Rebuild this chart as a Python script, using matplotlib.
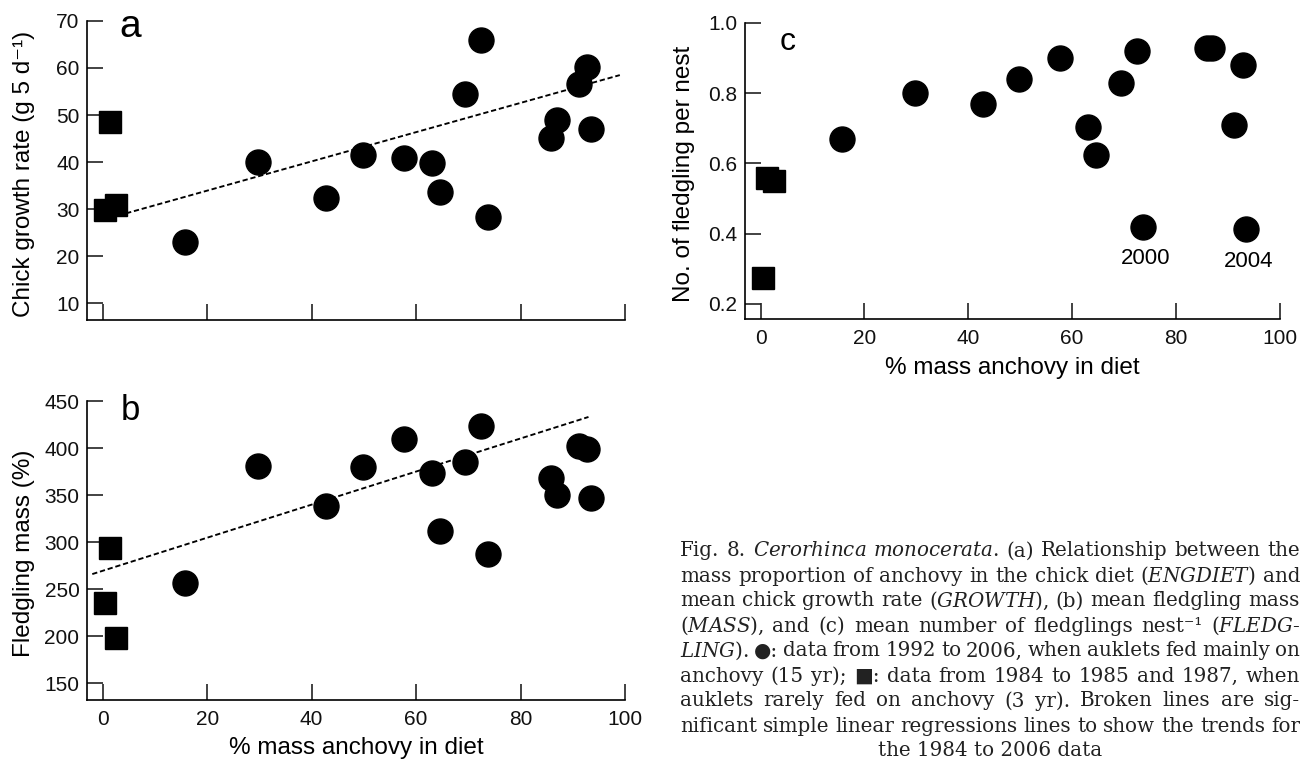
"""
Fig. 8 - Cerorhinca monocerata: chick growth, fledgling mass and
fledglings per nest against the share of anchovy in the chick diet.
"""

import matplotlib
matplotlib.use("Agg")
import matplotlib.pyplot as plt
import numpy as np
from matplotlib.ticker import FormatStrFormatter

plt.rcParams["font.family"] = ["Liberation Sans", "DejaVu Sans"]
plt.rcParams["mathtext.fontset"] = "custom"
plt.rcParams["mathtext.rm"] = "DejaVu Serif"
plt.rcParams["mathtext.it"] = "DejaVu Serif:italic"

# --- data ---------------------------------------------------------------
# 1992-2006, auklets fed mainly on anchovy (circles)
anchovy_x = [15.7, 29.8, 42.8, 49.8, 57.7, 63.1, 64.5, 69.4, 72.4, 73.7,
             85.9, 87.0, 91.2, 92.8, 93.4]
growth_y = [23.0, 40.0, 32.4, 41.6, 40.9, 39.8, 33.6, 54.5, 66.0, 28.3,
            45.2, 49.0, 56.7, 60.3, 47.1]
mass_y = [257, 381, 338, 380, 410, 374, 312, 385, 424, 288,
          368, 350, 402, 399, 347]
fledge_y = [0.670, 0.800, 0.770, 0.841, 0.900, 0.703, 0.623, 0.829, 0.921,
            0.420, 0.929, 0.929, 0.710, 0.881, 0.413]

# 1984, 1985, 1987, auklets rarely fed on anchovy (squares)
rare_x = [0.5, 1.3, 2.6]
rare_growth_y = [29.8, 48.6, 30.8]
rare_mass_y = [235.6, 294.4, 198.6]
rare_fledge_y = [0.273, 0.558, 0.549]

# regression lines (slope, intercept, x range)
growth_fit = (0.311, 27.7, (3, 99))
mass_fit = (1.757, 269.7, (-2, 93))

# labelled outliers in panel c: index into anchovy_x
year_labels = {9: "2000", 14: "2004"}

x_ticks = [0, 20, 40, 60, 80, 100]
growth_ticks = [10, 20, 30, 40, 50, 60, 70]
mass_ticks = [150, 200, 250, 300, 350, 400, 450]
fledge_ticks = [0.2, 0.4, 0.6, 0.8, 1.0]

caption = [
    r"Fig. 8. $\mathit{Cerorhinca}$ $\mathit{monocerata.}$ (a) Relationship between the",
    r"mass proportion of anchovy in the chick diet ($\mathit{ENGDIET}$) and",
    r"mean chick growth rate ($\mathit{GROWTH}$), (b) mean fledgling mass",
    r"($\mathit{MASS}$), and (c) mean number of fledglings nest⁻¹ ($\mathit{FLEDG}$-",
    r"$\mathit{LING}$). ●: data from 1992 to 2006, when auklets fed mainly on",
    r"anchovy (15 yr); ■: data from 1984 to 1985 and 1987, when",
    r"auklets rarely fed on anchovy (3 yr). Broken lines are sig-",
    r"nificant simple linear regressions lines to show the trends for",
    r"the 1984 to 2006 data",
]

LABEL_SIZE = 17.5
TICK_SIZE = 15
SERIF = ["DejaVu Serif", "DejaVu Sans"]


def style_axis(ax, ylim, yticks, show_xlabels):
    ax.set_xlim(-3, 100)
    ax.set_ylim(*ylim)
    ax.set_xticks(x_ticks)
    ax.set_yticks(yticks)
    for side in ("top", "right"):
        ax.spines[side].set_visible(False)
    for side in ("left", "bottom"):
        ax.spines[side].set_linewidth(1.2)
    ax.tick_params(direction="in", length=11.5, width=1.2, labelsize=TICK_SIZE,
                   color="#222222", labelcolor="#111111")
    ax.tick_params(axis="y", pad=5.5)
    ax.tick_params(axis="x", pad=7)
    if not show_xlabels:
        ax.set_xticklabels([])


def draw_points(ax, y_fed, y_rare):
    ax.plot(anchovy_x, y_fed, "o", color="black", markersize=18, zorder=3)
    ax.plot(rare_x, y_rare, "s", color="black", markersize=16.5, zorder=3)


def draw_fit(ax, fit):
    slope, intercept, (x0, x1) = fit
    xs = np.array([x0, x1])
    ax.plot(xs, intercept + slope * xs, color="black", lw=1.35,
            linestyle=(0, (2.8, 1.5)), zorder=2)


fig = plt.figure(figsize=(13.09, 7.60), dpi=100)
W, H = 1309, 760

ax_a = fig.add_axes([0.0665, 0.5789, 0.411, 0.3935])
ax_b = fig.add_axes([0.0665, 0.0789, 0.411, 0.3934])
ax_c = fig.add_axes([0.5691, 0.5803, 0.4087, 0.3895])

# panel a
draw_fit(ax_a, growth_fit)
draw_points(ax_a, growth_y, rare_growth_y)
style_axis(ax_a, (6.4, 70), growth_ticks, False)
ax_a.set_ylabel("Chick growth rate (g 5 d⁻¹)", fontsize=LABEL_SIZE)
ax_a.yaxis.set_label_coords(-0.097, 0.49)
ax_a.text(0.08, 0.946, "a", transform=ax_a.transAxes, fontsize=28,
          ha="center", va="baseline")

# panel b
draw_fit(ax_b, mass_fit)
draw_points(ax_b, mass_y, rare_mass_y)
style_axis(ax_b, (132.4, 450), mass_ticks, True)
ax_b.set_ylabel("Fledgling mass (%)", fontsize=LABEL_SIZE)
ax_b.yaxis.set_label_coords(-0.097, 0.49)
ax_b.set_xlabel("% mass anchovy in diet", fontsize=LABEL_SIZE)
ax_b.xaxis.set_label_coords(0.5, -0.125)
ax_b.text(0.08, 0.936, "b", transform=ax_b.transAxes, fontsize=25,
          ha="center", va="baseline")

# panel c
draw_points(ax_c, fledge_y, rare_fledge_y)
style_axis(ax_c, (0.157, 1.0), fledge_ticks, True)
ax_c.yaxis.set_major_formatter(FormatStrFormatter("%.1f"))
ax_c.set_ylabel("No. of fledgling per nest", fontsize=LABEL_SIZE)
ax_c.yaxis.set_label_coords(-0.094, 0.49)
ax_c.set_xlabel("% mass anchovy in diet", fontsize=LABEL_SIZE)
ax_c.xaxis.set_label_coords(0.5, -0.13)
ax_c.text(0.08, 0.909, "c", transform=ax_c.transAxes, fontsize=23,
          ha="center", va="baseline")
for idx, year in year_labels.items():
    ax_c.annotate(year, (anchovy_x[idx], fledge_y[idx]), xytext=(2, -23),
                  textcoords="offset points", ha="center", va="center",
                  fontsize=16)

# caption: justified lines, words spread between the two margins
renderer = fig.canvas.get_renderer()
left, right = 680, 1300
for i, line in enumerate(caption):
    y = 1 - (551 + 25 * i) / H
    if i == len(caption) - 1:
        fig.text(990 / W, y, line, ha="center", va="center", fontsize=14.3,
                 family=SERIF, color="#222222")
        continue
    words = [fig.text(0, y, w, ha="left", va="center", fontsize=14.3,
                      family=SERIF, color="#222222") for w in line.split(" ")]
    widths = [t.get_window_extent(renderer).width for t in words]
    gap = (right - left - sum(widths)) / (len(words) - 1)
    x = left
    for t, w in zip(words, widths):
        t.set_x(x / W)
        x += w + gap

fig.savefig("out.png", dpi=100)
